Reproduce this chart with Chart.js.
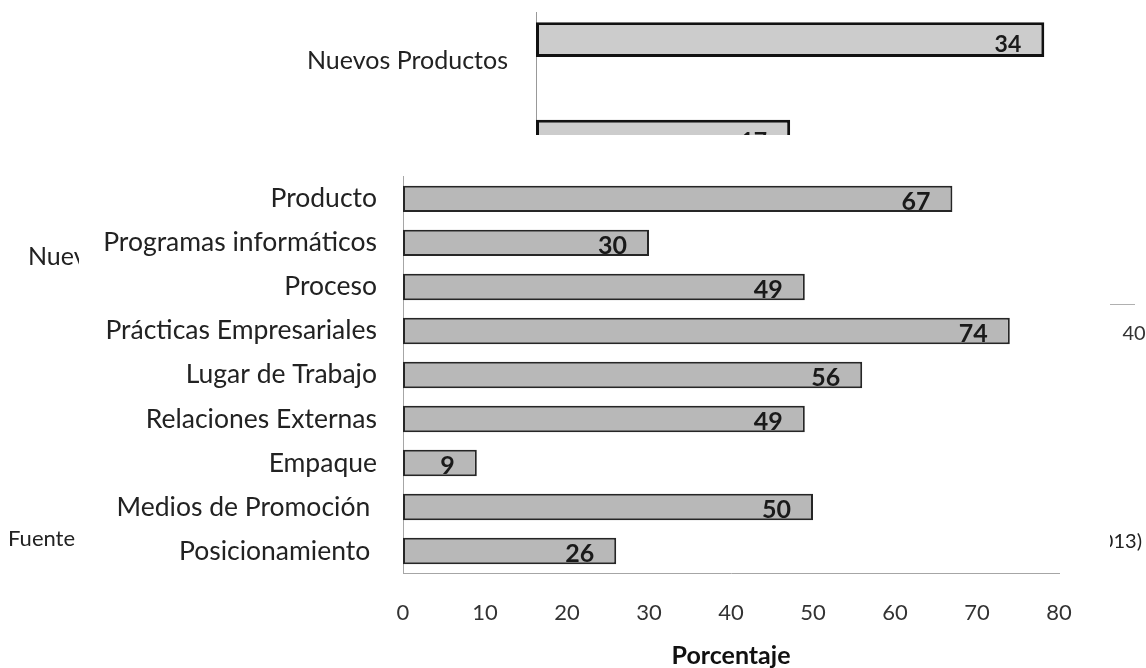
<!DOCTYPE html>
<html>
<head>
<meta charset="utf-8">
<script src="https://cdn.jsdelivr.net/npm/chart.js@4.4.0/dist/chart.umd.min.js"></script>
<style>
  html, body { margin: 0; padding: 0; background: #fff; }
  body { width: 1146px; height: 668px; position: relative; overflow: hidden; font-family: Lato, sans-serif; }
  #back { position: absolute; left: 0; top: 0; }
  .frag { position: absolute; color: #222; white-space: nowrap; line-height: 24px; }
  #front { position: absolute; left: 79px; top: 135px; width: 1031px; height: 533px; background: #fff; }
  #front canvas { display: block; }
</style>
</head>
<body>
<canvas id="back" width="1146" height="668"></canvas>
<div class="frag" style="left:28px; top:243px; font-size:25px;">Nuevos</div>
<div class="frag" style="left:8px; top:526px; font-size:22px;">Fuente</div>
<div class="frag" style="right:4px; top:528px; font-size:20px;">(2013)</div>
<div id="front"><canvas id="main" width="1031" height="533"></canvas></div>
<script>
// grafico de fondo (solo se ve un trozo)
const fondoCategorias = ["Nuevos Productos", "", ""];
const fondoSerie1 = [34, 17, null];
const fondoSerie2 = [null, null, null];
const fondoTicks = [0, 10, 20, 30, 40];

// grafico principal
const categorias = ["Producto", "Programas informáticos", "Proceso", "Prácticas Empresariales",
  "Lugar de Trabajo", "Relaciones Externas", "Empaque", "Medios de Promoción ", "Posicionamiento "];
const porcentajes = [67, 30, 49, 74, 56, 49, 9, 50, 26];
const ticksX = [0, 10, 20, 30, 40, 50, 60, 70, 80];

// numeros dentro de las barras, pegados al final
const valores = {
  id: "valores",
  afterDatasetsDraw(chart, args, opts) {
    const ctx = chart.ctx;
    ctx.save();
    ctx.font = opts.font;
    ctx.fillStyle = opts.color;
    ctx.textAlign = "right";
    ctx.textBaseline = "alphabetic";
    chart.data.datasets.forEach((ds, i) => {
      chart.getDatasetMeta(i).data.forEach((bar, j) => {
        const v = ds.data[j];
        if (v == null) return;
        const abajo = bar.y + bar.height / 2;
        ctx.fillText(String(v), bar.x - opts.dx, abajo - opts.dy);
      });
    });
    ctx.restore();
  }
};

new Chart(document.getElementById("back"), {
  type: "bar",
  data: {
    labels: fondoCategorias,
    datasets: [
      { data: fondoSerie1, backgroundColor: "#cccccc", borderColor: "#111", borderWidth: 3,
        borderSkipped: false, categoryPercentage: 0.86, barPercentage: 0.83 },
      { data: fondoSerie2, backgroundColor: "#cccccc", borderColor: "#111", borderWidth: 3,
        borderSkipped: false, categoryPercentage: 0.86, barPercentage: 0.83 }
    ]
  },
  options: {
    indexAxis: "y",
    responsive: false,
    animation: false,
    layout: { padding: { top: 12, right: 12, bottom: 0, left: 0 } },
    plugins: {
      legend: { display: false },
      tooltip: { enabled: false },
      valores: { dx: 23, dy: 5, font: "bold 23px Lato", color: "#1a1a1a" }
    },
    scales: {
      x: {
        min: 0, max: 40,
        afterBuildTicks: s => { s.ticks = fondoTicks.map(v => ({ value: v })); },
        ticks: { padding: 18, color: "#333", font: { family: "Lato", size: 20 } },
        grid: { display: false, drawTicks: false },
        border: { display: true, color: "#b0b0b0", width: 1 },
        afterFit: s => { s.height = 364; s.paddingLeft = 0; s.paddingRight = 0; }
      },
      y: {
        ticks: { padding: 28, color: "#222", font: { family: "Lato", size: 25 } },
        grid: { display: false, drawTicks: false },
        border: { display: true, color: "#999", width: 1 },
        afterFit: s => { s.width = 536; s.paddingTop = 0; s.paddingBottom = 0; }
      }
    }
  },
  plugins: [valores]
});

new Chart(document.getElementById("main"), {
  type: "bar",
  data: {
    labels: categorias,
    datasets: [{
      data: porcentajes,
      backgroundColor: "#b8b8b8",
      borderColor: "#262626",
      borderWidth: 2,
      borderSkipped: false,
      categoryPercentage: 1,
      barPercentage: 0.6
    }]
  },
  options: {
    indexAxis: "y",
    responsive: false,
    animation: false,
    layout: { padding: { top: 39, right: 51, bottom: 0, left: 0 } },
    plugins: {
      legend: { display: false },
      tooltip: { enabled: false },
      valores: { dx: 22, dy: 2, font: "bold 25px Lato", color: "#1a1a1a" }
    },
    scales: {
      x: {
        min: 0, max: 80,
        afterBuildTicks: s => { s.ticks = ticksX.map(v => ({ value: v })); },
        ticks: { padding: 27, color: "#333", font: { family: "Lato", size: 22 } },
        grid: { display: false, drawTicks: false },
        border: { display: true, color: "#a6a6a6", width: 1 },
        title: { display: true, text: "Porcentaje", color: "#111",
          font: { family: "Lato", size: 25, weight: "bold", lineHeight: 1 }, padding: 0 },
        afterFit: s => { s.height = 95; }
      },
      y: {
        ticks: { padding: 26, color: "#222", font: { family: "Lato", size: 26.5 } },
        grid: { display: false, drawTicks: false },
        border: { display: true, color: "#a6a6a6", width: 1 },
        afterFit: s => { s.width = 324; }
      }
    }
  },
  plugins: [valores]
});
</script>
</body>
</html>
